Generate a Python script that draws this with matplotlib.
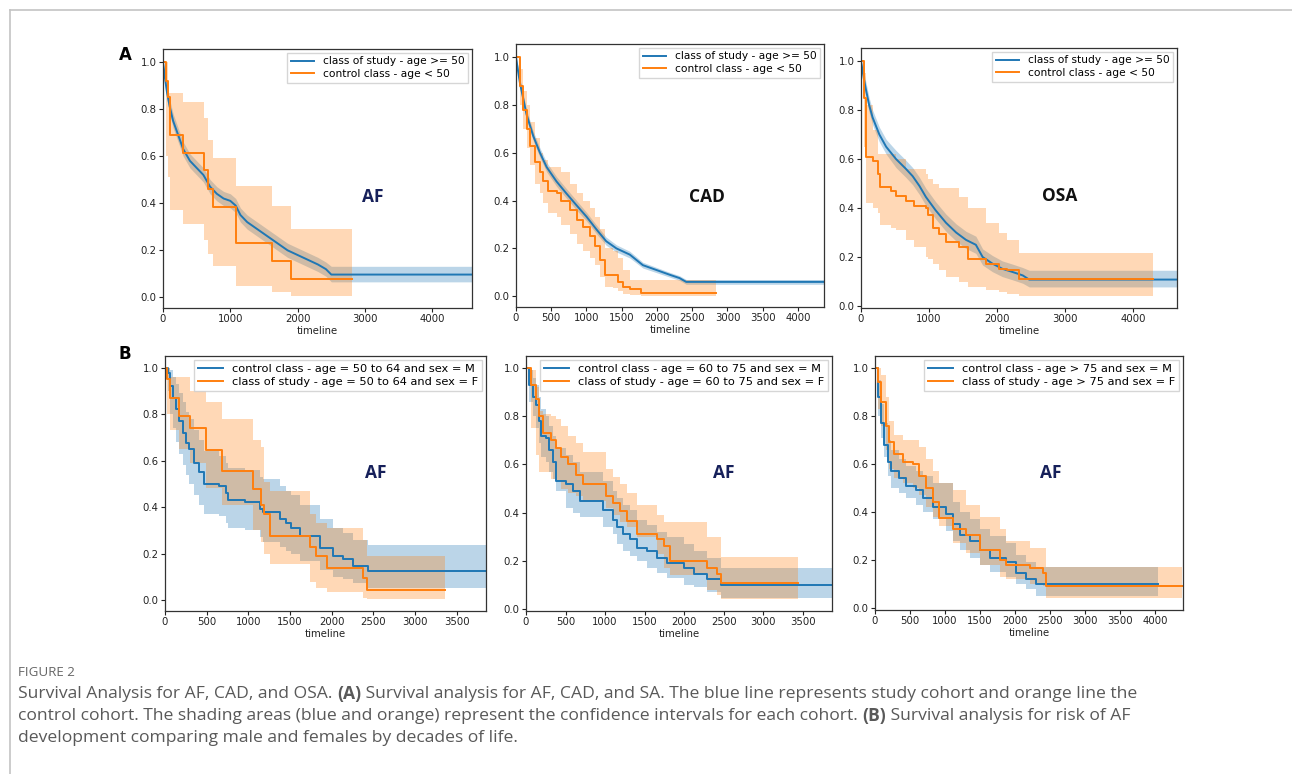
import matplotlib
matplotlib.use("Agg")
import matplotlib.pyplot as plt
from matplotlib.lines import Line2D

W, H = 1292, 774
BLUE = '#1f77b4'
ORANGE = '#ff7f0e'

# ---- panel A1 (AF) ----
a1_blue_t = [0, 30, 60, 100, 150, 200, 250, 300, 400, 500, 600, 700, 800, 900, 1000, 1080, 1150, 1250, 1400, 1550, 1700, 1850, 2000, 2150, 2300, 2420, 2500, 4590]
a1_blue_s = [1.00, 0.93, 0.87, 0.81, 0.75, 0.71, 0.67, 0.63, 0.58, 0.55, 0.52, 0.47, 0.44, 0.42, 0.41, 0.39, 0.35, 0.32, 0.29, 0.26, 0.23, 0.20, 0.18, 0.16, 0.14, 0.12, 0.097, 0.097]
a1_blue_lo = [0.98, 0.90, 0.84, 0.78, 0.72, 0.68, 0.64, 0.60, 0.55, 0.52, 0.49, 0.44, 0.41, 0.39, 0.38, 0.36, 0.32, 0.29, 0.26, 0.23, 0.20, 0.17, 0.15, 0.13, 0.11, 0.09, 0.066, 0.066]
a1_blue_hi = [1.00, 0.95, 0.90, 0.84, 0.78, 0.74, 0.70, 0.66, 0.61, 0.58, 0.55, 0.50, 0.47, 0.45, 0.44, 0.42, 0.38, 0.35, 0.32, 0.29, 0.26, 0.23, 0.21, 0.19, 0.17, 0.15, 0.132, 0.132]
a1_orange_t = [0, 50, 80, 110, 300, 615, 670, 740, 1085, 1620, 1900, 2805]
a1_orange_s = [1.0, 0.92, 0.85, 0.69, 0.615, 0.54, 0.46, 0.385, 0.23, 0.155, 0.077, 0.077]
a1_orange_lo = [1.0, 0.60, 0.51, 0.37, 0.31, 0.245, 0.185, 0.135, 0.05, 0.025, 0.005, 0.005]
a1_orange_hi = [1.0, 1.0, 0.87, 0.87, 0.83, 0.76, 0.67, 0.59, 0.475, 0.39, 0.29, 0.29]

# ---- panel A2 (CAD) ----
a2_blue_t = [0, 30, 57, 100, 150, 245, 340, 435, 575, 715, 860, 1000, 1140, 1280, 1425, 1615, 1800, 1990, 2180, 2320, 2415, 4380]
a2_blue_s = [1.0, 0.94, 0.89, 0.83, 0.76, 0.67, 0.60, 0.54, 0.48, 0.43, 0.38, 0.333, 0.28, 0.23, 0.20, 0.174, 0.13, 0.11, 0.09, 0.076, 0.06, 0.06]
a2_blue_lo = [0.99, 0.92, 0.87, 0.81, 0.74, 0.65, 0.58, 0.52, 0.46, 0.41, 0.36, 0.315, 0.262, 0.213, 0.185, 0.16, 0.118, 0.099, 0.08, 0.066, 0.05, 0.05]
a2_blue_hi = [1.0, 0.96, 0.91, 0.85, 0.78, 0.69, 0.62, 0.56, 0.50, 0.45, 0.40, 0.351, 0.298, 0.247, 0.215, 0.188, 0.142, 0.121, 0.10, 0.086, 0.07, 0.07]
a2_orange_t = [0, 57, 104, 150, 200, 270, 340, 385, 460, 575, 645, 765, 860, 950, 1050, 1120, 1190, 1260, 1380, 1450, 1520, 1615, 1780, 2840]
a2_orange_s = [1.0, 0.88, 0.78, 0.70, 0.63, 0.56, 0.52, 0.48, 0.44, 0.43, 0.40, 0.36, 0.32, 0.29, 0.25, 0.21, 0.15, 0.09, 0.09, 0.06, 0.04, 0.03, 0.015, 0.015]
a2_orange_lo = [1.0, 0.80, 0.70, 0.62, 0.55, 0.47, 0.43, 0.39, 0.35, 0.33, 0.30, 0.26, 0.22, 0.19, 0.16, 0.13, 0.08, 0.04, 0.035, 0.02, 0.01, 0.005, 0.003, 0.003]
a2_orange_hi = [1.0, 0.95, 0.86, 0.80, 0.73, 0.66, 0.60, 0.57, 0.54, 0.54, 0.52, 0.47, 0.43, 0.40, 0.37, 0.33, 0.28, 0.20, 0.19, 0.16, 0.11, 0.07, 0.07, 0.07]

# ---- panel A3 (OSA) ----
a3_blue_t = [0, 40, 75, 120, 170, 270, 370, 515, 660, 760, 860, 955, 1100, 1250, 1400, 1545, 1690, 1790, 1935, 2080, 2230, 2380, 2475, 4650]
a3_blue_s = [1.0, 0.93, 0.88, 0.82, 0.77, 0.70, 0.65, 0.60, 0.56, 0.53, 0.49, 0.445, 0.39, 0.34, 0.30, 0.27, 0.25, 0.20, 0.173, 0.152, 0.139, 0.125, 0.108, 0.108]
a3_blue_lo = [0.99, 0.90, 0.85, 0.79, 0.74, 0.67, 0.62, 0.565, 0.525, 0.495, 0.455, 0.41, 0.355, 0.305, 0.265, 0.235, 0.215, 0.167, 0.14, 0.12, 0.107, 0.093, 0.078, 0.078]
a3_blue_hi = [1.0, 0.96, 0.91, 0.85, 0.80, 0.73, 0.68, 0.635, 0.595, 0.565, 0.525, 0.48, 0.425, 0.375, 0.335, 0.305, 0.285, 0.233, 0.206, 0.184, 0.171, 0.157, 0.146, 0.146]
a3_orange_t = [0, 40, 75, 170, 245, 285, 440, 515, 660, 785, 955, 980, 1055, 1150, 1250, 1445, 1570, 1840, 2030, 2155, 2330, 4290]
a3_orange_s = [1.0, 0.85, 0.61, 0.59, 0.54, 0.485, 0.47, 0.45, 0.43, 0.41, 0.40, 0.37, 0.32, 0.295, 0.26, 0.24, 0.19, 0.17, 0.152, 0.146, 0.112, 0.112]
a3_orange_lo = [1.0, 0.65, 0.42, 0.40, 0.38, 0.33, 0.32, 0.31, 0.27, 0.24, 0.20, 0.19, 0.17, 0.146, 0.12, 0.10, 0.078, 0.065, 0.057, 0.05, 0.04, 0.04]
a3_orange_hi = [1.0, 0.95, 0.82, 0.72, 0.62, 0.62, 0.62, 0.60, 0.56, 0.56, 0.54, 0.52, 0.50, 0.48, 0.48, 0.445, 0.40, 0.34, 0.30, 0.27, 0.215, 0.215]

# ---- panel B1 (50 to 64) ----
b1_blue_t = [0, 32, 60, 92, 132, 172, 212, 252, 293, 353, 413, 473, 653, 734, 754, 954, 1135, 1175, 1375, 1455, 1516, 1616, 1856, 2016, 2137, 2257, 2438, 3850]
b1_blue_s = [1.0, 0.976, 0.92, 0.87, 0.82, 0.77, 0.72, 0.676, 0.65, 0.59, 0.55, 0.50, 0.49, 0.46, 0.43, 0.42, 0.39, 0.38, 0.35, 0.33, 0.31, 0.276, 0.226, 0.19, 0.176, 0.147, 0.126, 0.126]
b1_blue_lo = [1.0, 0.90, 0.80, 0.74, 0.68, 0.63, 0.58, 0.54, 0.50, 0.45, 0.41, 0.37, 0.36, 0.33, 0.31, 0.30, 0.27, 0.25, 0.23, 0.21, 0.20, 0.17, 0.13, 0.10, 0.09, 0.075, 0.05, 0.05]
b1_blue_hi = [1.0, 1.0, 0.99, 0.96, 0.93, 0.89, 0.85, 0.81, 0.78, 0.73, 0.69, 0.64, 0.62, 0.59, 0.57, 0.56, 0.53, 0.52, 0.49, 0.47, 0.45, 0.41, 0.35, 0.31, 0.29, 0.26, 0.235, 0.235]
b1_orange_t = [0, 20, 60, 172, 305, 493, 686, 1054, 1155, 1183, 1255, 1736, 1808, 1937, 2378, 2418, 3360]
b1_orange_s = [1.0, 0.95, 0.87, 0.79, 0.74, 0.644, 0.555, 0.476, 0.41, 0.37, 0.276, 0.23, 0.19, 0.14, 0.097, 0.043, 0.043]
b1_orange_lo = [1.0, 0.80, 0.73, 0.65, 0.59, 0.48, 0.41, 0.30, 0.25, 0.20, 0.155, 0.076, 0.05, 0.033, 0.01, 0.004, 0.004]
b1_orange_hi = [1.0, 1.0, 0.96, 0.96, 0.90, 0.85, 0.78, 0.69, 0.66, 0.51, 0.47, 0.37, 0.33, 0.31, 0.26, 0.19, 0.19]

# ---- panel B2 (60 to 75) ----
b2_blue_t = [0, 42, 85, 127, 170, 190, 255, 297, 340, 382, 509, 594, 679, 976, 1103, 1145, 1230, 1315, 1400, 1527, 1655, 1782, 1994, 2121, 2291, 2461, 3870]
b2_blue_s = [1.0, 0.93, 0.88, 0.845, 0.78, 0.72, 0.71, 0.66, 0.61, 0.53, 0.52, 0.49, 0.45, 0.41, 0.37, 0.34, 0.31, 0.29, 0.255, 0.24, 0.21, 0.19, 0.17, 0.144, 0.124, 0.10, 0.10]
b2_blue_lo = [1.0, 0.86, 0.80, 0.75, 0.69, 0.63, 0.61, 0.57, 0.54, 0.49, 0.42, 0.40, 0.38, 0.34, 0.31, 0.27, 0.24, 0.22, 0.20, 0.17, 0.15, 0.13, 0.10, 0.09, 0.07, 0.044, 0.044]
b2_blue_hi = [1.0, 0.99, 0.96, 0.93, 0.88, 0.83, 0.80, 0.76, 0.72, 0.67, 0.64, 0.61, 0.57, 0.53, 0.49, 0.46, 0.43, 0.41, 0.37, 0.35, 0.32, 0.30, 0.27, 0.24, 0.21, 0.17, 0.17]
b2_orange_t = [0, 64, 127, 170, 212, 318, 382, 445, 530, 636, 721, 1018, 1103, 1188, 1273, 1400, 1655, 1740, 1824, 2291, 2418, 2461, 3437]
b2_orange_s = [1.0, 0.93, 0.87, 0.80, 0.73, 0.70, 0.67, 0.63, 0.60, 0.556, 0.52, 0.47, 0.44, 0.405, 0.365, 0.31, 0.29, 0.26, 0.20, 0.17, 0.144, 0.11, 0.11]
b2_orange_lo = [1.0, 0.75, 0.64, 0.57, 0.57, 0.54, 0.53, 0.50, 0.48, 0.47, 0.45, 0.42, 0.39, 0.36, 0.34, 0.30, 0.23, 0.17, 0.14, 0.08, 0.06, 0.04, 0.04]
b2_orange_hi = [1.0, 0.99, 0.92, 0.82, 0.81, 0.80, 0.79, 0.76, 0.72, 0.69, 0.65, 0.58, 0.55, 0.52, 0.48, 0.43, 0.39, 0.36, 0.36, 0.30, 0.30, 0.215, 0.215]

# ---- panel B3 (> 75) ----
b3_blue_t = [0, 38, 86, 134, 181, 229, 348, 444, 587, 683, 826, 1017, 1112, 1208, 1351, 1494, 1637, 1876, 2019, 2162, 2305, 4047]
b3_blue_s = [1.0, 0.88, 0.77, 0.68, 0.61, 0.57, 0.54, 0.51, 0.49, 0.46, 0.42, 0.39, 0.35, 0.305, 0.28, 0.24, 0.21, 0.19, 0.147, 0.12, 0.10, 0.10]
b3_blue_lo = [1.0, 0.80, 0.71, 0.63, 0.55, 0.50, 0.48, 0.46, 0.43, 0.40, 0.37, 0.32, 0.28, 0.24, 0.21, 0.18, 0.15, 0.13, 0.10, 0.08, 0.05, 0.05]
b3_blue_hi = [1.0, 0.95, 0.85, 0.77, 0.70, 0.66, 0.62, 0.59, 0.57, 0.55, 0.52, 0.52, 0.44, 0.40, 0.37, 0.33, 0.30, 0.27, 0.22, 0.19, 0.17, 0.17]
b3_orange_t = [0, 38, 86, 158, 205, 277, 396, 539, 635, 730, 826, 921, 1112, 1303, 1494, 1780, 1876, 2210, 2401, 2449, 4382]
b3_orange_s = [1.0, 0.94, 0.86, 0.76, 0.69, 0.64, 0.61, 0.60, 0.55, 0.50, 0.44, 0.375, 0.33, 0.305, 0.24, 0.20, 0.18, 0.168, 0.147, 0.092, 0.092]
b3_orange_lo = [1.0, 0.83, 0.76, 0.66, 0.58, 0.54, 0.52, 0.50, 0.47, 0.42, 0.38, 0.34, 0.27, 0.23, 0.18, 0.13, 0.12, 0.10, 0.09, 0.04, 0.04]
b3_orange_hi = [1.0, 1.0, 0.97, 0.88, 0.78, 0.72, 0.70, 0.70, 0.67, 0.62, 0.57, 0.52, 0.49, 0.43, 0.38, 0.33, 0.28, 0.25, 0.25, 0.17, 0.17]

a_labels = ['class of study - age >= 50', 'control class - age < 50']
b1_labels = ['control class - age = 50 to 64 and sex = M', 'class of study - age = 50 to 64 and sex = F']
b2_labels = ['control class - age = 60 to 75 and sex = M', 'class of study - age = 60 to 75 and sex = F']
b3_labels = ['control class - age > 75 and sex = M', 'class of study - age > 75 and sex = F']

fig = plt.figure(figsize=(W / 100, H / 100), dpi=100)


def add_ax(left, top, right, bottom):
    return fig.add_axes([left / W, 1 - bottom / H, (right - left) / W, (bottom - top) / H])


def draw_series(ax, series, color, stepped):
    t, s, lo, hi = series
    if stepped:
        ax.fill_between(t, lo, hi, step='post', color=color, alpha=0.3, lw=0)
        line, = ax.step(t, s, where='post', color=color, lw=1.4)
    else:
        # many tiny KM steps: drawn as a fine line through the read points
        ax.fill_between(t, lo, hi, color=color, alpha=0.3, lw=0)
        line, = ax.plot(t, s, color=color, lw=1.4)
    return line


def km_panel(ax, blue, orange, labels, xmax, ylim, xticks, tag, tag_xy, tag_color, legsize,
             blue_step=True, orange_step=True):
    lb = draw_series(ax, blue, BLUE, blue_step)
    lo_ = draw_series(ax, orange, ORANGE, orange_step)
    ax.set_xlim(0, xmax)
    ax.set_ylim(*ylim)
    ax.set_xticks(xticks)
    ax.set_yticks([0.0, 0.2, 0.4, 0.6, 0.8, 1.0])
    ax.tick_params(labelsize=7.3, length=3, pad=1.5, colors='#222222')
    ax.set_xlabel('timeline', fontsize=7.3, labelpad=1, color='#222222')
    for sp in ax.spines.values():
        sp.set_color('#333333')
        sp.set_linewidth(0.9)
    ax.legend([lb, lo_], labels, loc='upper right', fontsize=legsize, frameon=True,
              edgecolor='#cccccc', fancybox=False, borderpad=0.35, labelspacing=0.25,
              handlelength=2.2, borderaxespad=0.35)
    ax.text(tag_xy[0], tag_xy[1], tag, transform=ax.transAxes, ha='center', va='center',
            fontsize=12.5, fontweight='bold', color=tag_color, family='Open Sans')


ax1 = add_ax(163, 49, 472, 308)
km_panel(ax1, (a1_blue_t, a1_blue_s, a1_blue_lo, a1_blue_hi),
         (a1_orange_t, a1_orange_s, a1_orange_lo, a1_orange_hi),
         a_labels, 4590, (-0.045, 1.055), [0, 1000, 2000, 3000, 4000], 'AF', (0.68, 0.43), '#16205a', 7.7,
         blue_step=False)

ax2 = add_ax(516, 44, 824, 307)
km_panel(ax2, (a2_blue_t, a2_blue_s, a2_blue_lo, a2_blue_hi),
         (a2_orange_t, a2_orange_s, a2_orange_lo, a2_orange_hi),
         a_labels, 4370, (-0.045, 1.055), list(range(0, 4001, 500)), 'CAD', (0.62, 0.42), '#111111', 7.7,
         blue_step=False)

ax3 = add_ax(861, 48, 1177, 308)
km_panel(ax3, (a3_blue_t, a3_blue_s, a3_blue_lo, a3_blue_hi),
         (a3_orange_t, a3_orange_s, a3_orange_lo, a3_orange_hi),
         a_labels, 4650, (-0.008, 1.053), [0, 1000, 2000, 3000, 4000], 'OSA', (0.63, 0.43), '#111111', 7.7,
         blue_step=False)

ax4 = add_ax(165, 356, 486, 611)
km_panel(ax4, (b1_blue_t, b1_blue_s, b1_blue_lo, b1_blue_hi),
         (b1_orange_t, b1_orange_s, b1_orange_lo, b1_orange_hi),
         b1_labels, 3850, (-0.047, 1.05), list(range(0, 3501, 500)), 'AF', (0.655, 0.54), '#16205a', 8.2)

ax5 = add_ax(526, 356, 832, 611)
km_panel(ax5, (b2_blue_t, b2_blue_s, b2_blue_lo, b2_blue_hi),
         (b2_orange_t, b2_orange_s, b2_orange_lo, b2_orange_hi),
         b2_labels, 3870, (-0.008, 1.05), list(range(0, 3501, 500)), 'AF', (0.645, 0.54), '#16205a', 8.2)

ax6 = add_ax(875, 356, 1183, 610)
km_panel(ax6, (b3_blue_t, b3_blue_s, b3_blue_lo, b3_blue_hi),
         (b3_orange_t, b3_orange_s, b3_orange_lo, b3_orange_hi),
         b3_labels, 4400, (-0.008, 1.05), list(range(0, 4001, 500)), 'AF', (0.57, 0.54), '#16205a', 8.2)

# panel letters
fig.text(125 / W, 1 - 55 / H, 'A', fontsize=12, fontweight='bold', ha='center', va='center')
fig.text(125 / W, 1 - 354 / H, 'B', fontsize=12, fontweight='bold', ha='center', va='center')

# page frame
fig.add_artist(Line2D([10 / W, 1], [1 - 10 / H, 1 - 10 / H], transform=fig.transFigure, color='#c4c4c4', lw=1.2))
fig.add_artist(Line2D([10 / W, 10 / W], [0, 1 - 10 / H], transform=fig.transFigure, color='#c4c4c4', lw=1.2))

# caption
cap_color = '#595959'
fig.text(18 / W, 1 - 672 / H, 'FIGURE 2', fontsize=9.6, color='#666666', va='center', family='Open Sans')

caption_lines = [
    [('Survival Analysis for AF, CAD, and OSA. ', 'normal'), ('(A)', 'bold'),
     (' Survival analysis for AF, CAD, and SA. The blue line represents study cohort and orange line the', 'normal')],
    [('control cohort. The shading areas (blue and orange) represent the confidence intervals for each cohort. ', 'normal'),
     ('(B)', 'bold'), (' Survival analysis for risk of AF', 'normal')],
    [('development comparing male and females by decades of life.', 'normal')],
]
caption_y = [694, 716, 738]

renderer = fig.canvas.get_renderer()
for segs, yy in zip(caption_lines, caption_y):
    x = 18
    for txt, wt in segs:
        t = fig.text(x / W, 1 - yy / H, txt, fontsize=12.6, color=cap_color, fontweight=wt,
                     va='center', ha='left', family='Open Sans')
        bb = t.get_window_extent(renderer=renderer)
        x += bb.width

fig.savefig('out.png', dpi=100)
